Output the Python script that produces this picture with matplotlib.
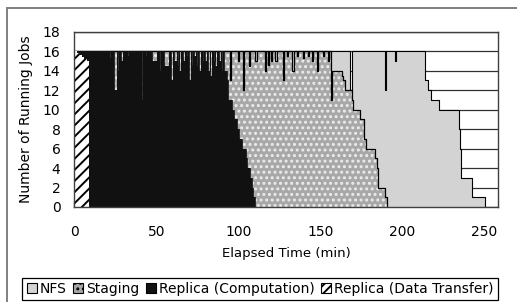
import numpy as np
import matplotlib.pyplot as plt
from matplotlib.lines import Line2D
from matplotlib.patches import Patch

plt.rcParams['font.family'] = ['DejaVu Sans']
plt.rcParams['hatch.linewidth'] = 1.4

# step-wise running job counts: time where the count changes (min) and the new count
nfs_t = [0, 213.8, 215.6, 217.6, 222.4, 234.8, 235.3, 235.9, 242.3, 250.4]
nfs_n = [16, 13, 12, 11, 10, 8, 6, 3, 1, 0]
nfs_dips = [(168.3, 169.5, 12), (189.5, 190.2, 12), (195.8, 196.3, 15)]

staging_t = [0, 157.1, 163.0, 164.0, 165.0, 169.1, 170.1, 174.2, 176.8, 177.8,
             183.4, 184.4, 185.0, 189.5, 190.5]
staging_n = [16, 14, 13.5, 13, 12, 11, 10, 9, 7, 6, 5, 4, 2, 1, 0]
staging_dips = [(95.0, 95.6, 13), (100.0, 100.7, 15), (103.0, 103.7, 12),
                (106.5, 107.1, 14.5), (110.5, 111.5, 15), (116.3, 117.1, 14),
                (118.2, 118.9, 14.6), (120.0, 120.6, 15), (122.5, 123.4, 15),
                (127.0, 127.9, 13), (130.0, 130.5, 15.5), (133.0, 133.7, 14),
                (136.0, 136.5, 15.5), (139.5, 140.1, 15.3), (142.5, 143.0, 15.5),
                (145.0, 145.7, 15), (148.0, 148.9, 14), (151.5, 152.0, 15.5),
                (154.5, 155.4, 15), (156.5, 157.1, 11)]

comp_t = [0, 91.0, 92.9, 93.9, 96.0, 97.4, 99.0, 100.4, 102.0, 104.7, 105.5,
          107.1, 108.2, 109.1, 110.2]
comp_n = [16, 14, 13, 11, 10, 9, 8, 7, 6, 5, 4, 3, 2, 1, 0]
comp_dips = [(21.5, 22.2, 15.3), (24.5, 26.0, 12.0), (26.5, 27.5, 14.0),
             (28.5, 29.5, 15.0), (33.0, 33.5, 15.5), (41.2, 41.7, 11.0),
             (44.0, 44.5, 15.5), (47.5, 50.5, 15.0), (52.0, 53.0, 14.0),
             (55.0, 57.5, 14.5), (59.0, 60.0, 13.0), (61.0, 62.5, 15.0),
             (63.0, 63.6, 14.5), (64.0, 65.0, 14.0), (66.5, 67.5, 15.0),
             (68.5, 69.2, 15.5), (70.0, 71.0, 13.0), (71.8, 72.5, 14.5),
             (73.0, 74.0, 15.5), (75.0, 75.6, 14.5), (76.0, 77.5, 14.0),
             (78.5, 79.2, 15.0), (80.0, 81.0, 15.0), (81.8, 82.5, 14.0),
             (83.0, 84.0, 13.5), (85.0, 85.6, 15.0), (86.0, 87.0, 14.5),
             (88.5, 89.5, 15.0), (90.0, 90.6, 14.0)]

transfer_t = [0, 1.5, 3.0, 4.5, 6.0, 7.5, 9.0]
transfer_n = [16, 15.8, 15.6, 15.4, 15.2, 15.0, 0]

labels = ['NFS', 'Staging', 'Replica (Computation)', 'Replica (Data Transfer)']


def build(t, n, dips=()):
    edges = sorted(set(t) | {a for a, b, l in dips} | {b for a, b, l in dips})
    vals = []
    for e in edges:
        i = np.searchsorted(t, e, side='right') - 1
        v = n[i]
        for a, b, l in dips:
            if a <= e < b:
                v = min(v, l)
        vals.append(v)
    return np.array(edges), np.array(vals)


fig = plt.figure(figsize=(5.17, 3.02), dpi=100)
ax = fig.add_axes([74.3 / 517, 1 - 207 / 302, (497.7 - 74.3) / 517, (207 - 31.7) / 302])

x, y = build(nfs_t, nfs_n, nfs_dips)
ax.fill_between(x, y, step='post', facecolor='#d3d3d3', lw=0, zorder=2)
ax.step(x, y, where='post', color='k', lw=0.8, zorder=2.1)

x, y = build(staging_t, staging_n, staging_dips)
ax.fill_between(x, y, step='post', facecolor='#a8a8a8', lw=0, zorder=3)
ax.fill_between(x, y, step='post', facecolor='none', edgecolor='#ececec',
                hatch='...', lw=0, zorder=3.05)
ax.step(x, y, where='post', color='k', lw=0.9, zorder=3.1)

x, y = build(comp_t, comp_n, comp_dips)
ax.fill_between(x, y, step='post', facecolor='#111111', lw=0, zorder=4)
ax.step(x, y, where='post', color='#111111', lw=0.6, zorder=4.1)

x, y = build(transfer_t, transfer_n)
ax.fill_between(x, y, step='post', facecolor='white', edgecolor='black',
                hatch='///', lw=0, zorder=5)

ax.set_xlim(0, 258.2)
ax.set_ylim(0, 18)
ax.set_xticks([0, 50, 100, 150, 200, 250])
ax.set_yticks(range(0, 19, 2))
ax.yaxis.grid(True, color='#303030', lw=0.9, zorder=1)
ax.set_axisbelow(True)
ax.tick_params(axis='x', direction='in', length=4, width=0.9, pad=13, labelsize=10)
ax.tick_params(axis='y', length=0, pad=10, labelsize=10)
for s in ax.spines.values():
    s.set_color('#404040')
    s.set_linewidth(1.0)
    s.set_zorder(6)
ax.set_xlabel('Elapsed Time (min)', fontsize=9.5, labelpad=6)
ax.set_ylabel('Number of Running Jobs', fontsize=10, labelpad=7)

handles = [Patch(facecolor='#d3d3d3', edgecolor='black', lw=0.8),
           Patch(facecolor='#a8a8a8', edgecolor='black', lw=0.8, hatch='...'),
           Patch(facecolor='#111111', edgecolor='black', lw=0.8),
           Patch(facecolor='white', edgecolor='black', lw=0.8, hatch='////')]
leg = fig.legend(handles, labels, loc='center', bbox_to_anchor=(260 / 517, 1 - 289 / 302),
                 ncol=4, fontsize=10, handlelength=0.75, handleheight=0.75,
                 handletextpad=0.2, columnspacing=0.45, borderpad=0.3,
                 fancybox=False, edgecolor='black', framealpha=1)
leg.get_frame().set_linewidth(0.9)

# outer chart border (only the top and left edges fall inside the crop)
fig.add_artist(Line2D([7 / 517, 1.0], [1 - 8 / 302, 1 - 8 / 302], transform=fig.transFigure,
                      color='#808080', lw=1.4))
fig.add_artist(Line2D([7 / 517, 7 / 517], [0, 1 - 8 / 302], transform=fig.transFigure,
                      color='#808080', lw=1.4))

fig.savefig('out.png', dpi=100)
